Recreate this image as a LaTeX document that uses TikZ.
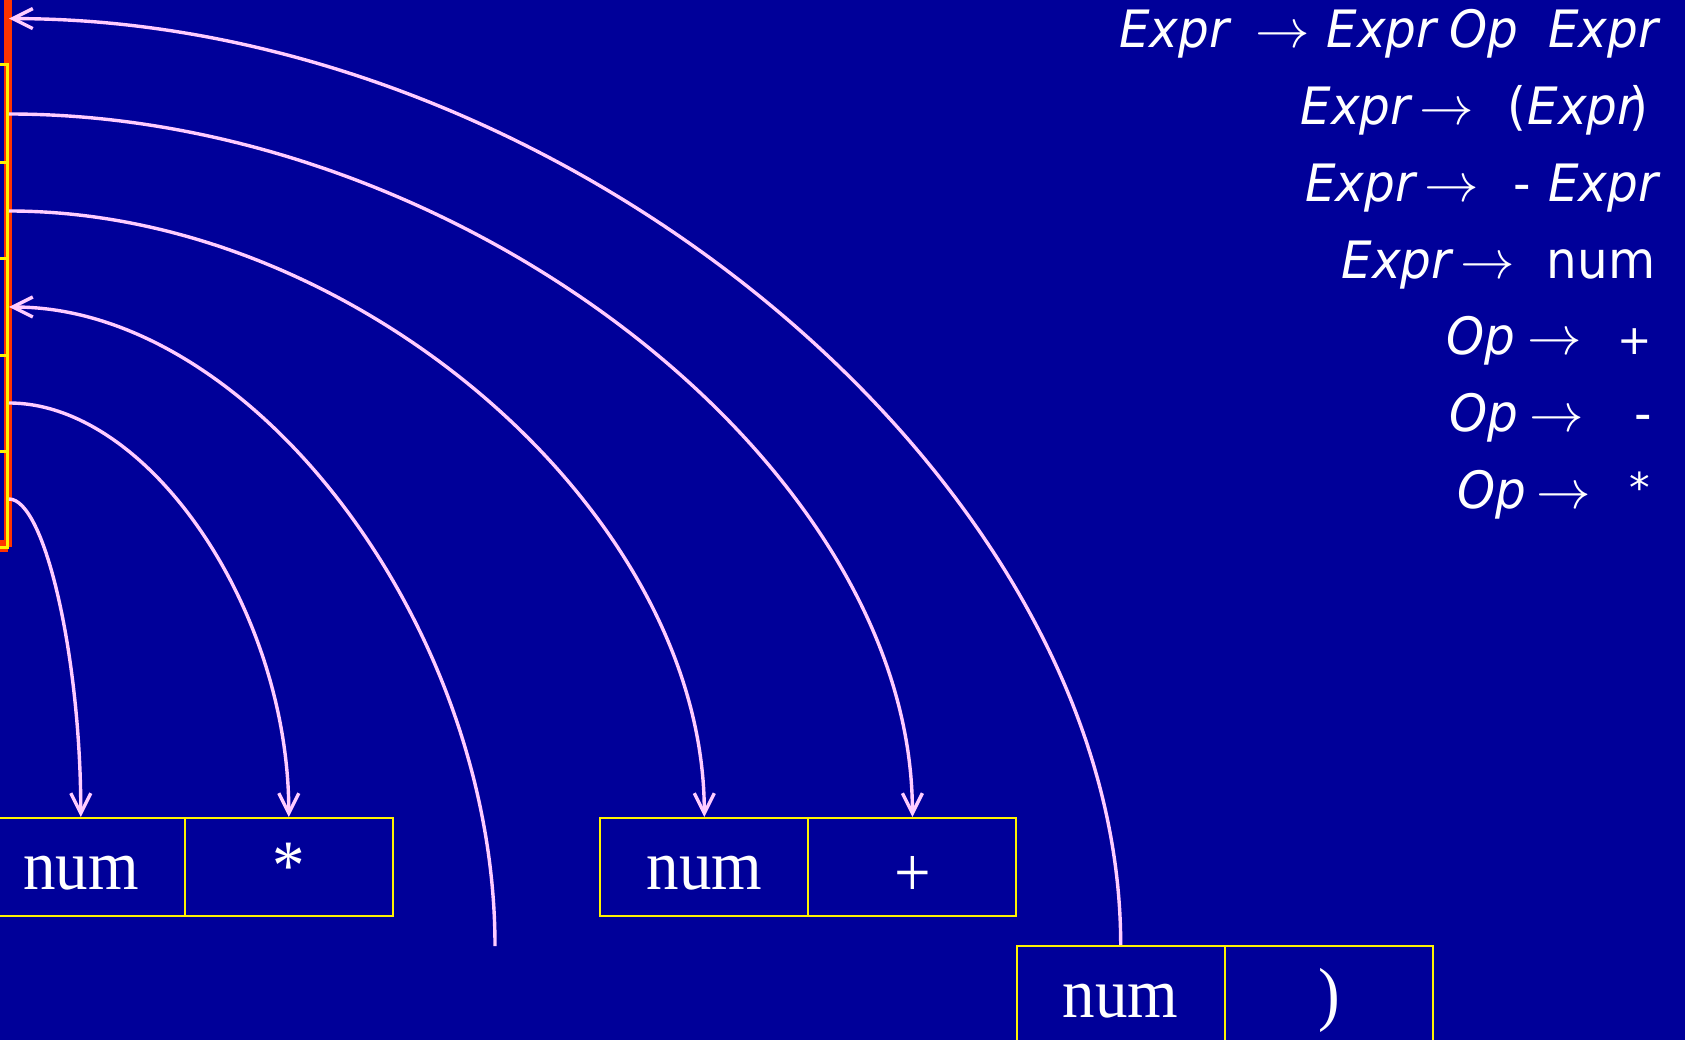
\documentclass[tikz,border=0pt]{standalone}
\usepackage{graphicx}
\usepackage{fontspec}
\usetikzlibrary{arrows.meta,calc}
\newfontfamily\gramfont{DejaVu Sans}
\newfontfamily\cellfont{Liberation Serif}
\definecolor{bgblue}{RGB}{0,0,153}
\definecolor{pinkline}{RGB}{255,204,255}
\definecolor{redbar}{RGB}{255,51,0}
\newcommand\gsq[1]{\scalebox{0.94}[1]{#1}}
\newcommand\csq[1]{\scalebox{1}[1.09]{#1}}
\newcommand\garrow{\scalebox{5.45}{$\rightarrow$}}
\tikzset{
  gram/.style={anchor=base west, inner sep=0pt, outer sep=0pt, text=white,
    font=\gramfont\fontsize{51.5}{60}\selectfont},
  gi/.style={gram, font=\gramfont\itshape\fontsize{51.5}{60}\selectfont},
  garr/.style={anchor=base west, inner sep=0pt, outer sep=0pt, text=white, font=\normalsize},
  cell/.style={draw=yellow, line width=2pt, minimum width=208pt, minimum height=98pt,
    inner sep=0pt, text height=50pt, text depth=6pt, text=white,
    font=\cellfont\fontsize{65}{70}\selectfont},
  stackcell/.style={draw=yellow, line width=3pt, minimum width=307.5pt,
    minimum height=96pt, inner sep=0pt},
  conn/.style={draw=pinkline, line width=3.4pt,
    -{Straight Barb[length=20pt,width=20pt]}},
}
\begin{document}
\begin{tikzpicture}[x=1pt,y=-1pt]
\path[use as bounding box] (0,0) rectangle (1685,1040);
\clip (0,0) rectangle (1685,1040);
\fill[bgblue] (0,0) rectangle (1685,1040);

% red marker bar
\fill[redbar] (4,0) rectangle (11.7,547);
\fill[redbar] (0,540) rectangle (8,552);

% stack cells (mostly off the left edge)
\node[stackcell, minimum height=98pt] (s1) at (-146.25,114) {};
\node[stackcell] (s2) at (-146.25,211) {};
\node[stackcell] (s3) at (-146.25,307) {};
\node[stackcell] (s4) at (-146.25,403) {};
\node[stackcell] (s5) at (-146.25,499) {};

% token cells
\node[cell] (a1) at (80.8,867) {\csq{num}};
\node[cell] (a2) at (288.8,867) {\csq{*}};
\node[cell] (b1) at (704.3,867) {\csq{num}};
\node[cell] (b2) at (912.4,867) {\raisebox{-7pt}{\csq{+}}};
\node[cell] (c1) at (1120.7,995) {\csq{num}};
\node[cell] (c2) at (1328.9,995) {\csq{)}};

\coordinate (top) at (9,18.6);
\coordinate (free) at (495,946);

% connectors
\draw[conn] (c1.north) .. controls ($(c1.north)!0.5!(top -| c1.north)$) and ($(top)!0.5!(top -| c1.north)$) .. (top);
\draw[conn] (s1.east) .. controls ($(s1.east)!0.5!(s1.east -| b2.north)$) and ($(b2.north)!0.5!(s1.east -| b2.north)$) .. (b2.north);
\draw[conn] (s2.east) .. controls ($(s2.east)!0.5!(s2.east -| b1.north)$) and ($(b1.north)!0.5!(s2.east -| b1.north)$) .. (b1.north);
\draw[conn] (free) .. controls ($(free)!0.5!(s3.east -| free)$) and ($(s3.east)!0.5!(s3.east -| free)$) .. (s3.east);
\draw[conn] (s4.east) .. controls ($(s4.east)!0.5!(s4.east -| a2.north)$) and ($(a2.north)!0.5!(s4.east -| a2.north)$) .. (a2.north);
\draw[conn] (s5.east) .. controls ($(s5.east)!0.5!(s5.east -| a1.north)$) and ($(a1.north)!0.5!(s5.east -| a1.north)$) .. (a1.north);

% grammar
\node[gi] (l1a) at (1119,48) {\gsq{Expr}};
\node[garr] (l1b) at (1255.6,48) {\garrow};
\node[gi] (l1c) at (1326.6,48) {\gsq{Expr}};
\node[gi] (l1d) at (1449.7,48) {\gsq{Op}};
\node[gi] (l1e) at (1548,48) {\gsq{Expr}};

\node[gi] (l2a) at (1300.5,124.7) {\gsq{Expr}};
\node[garr] (l2b) at (1419.8,124.7) {\garrow};
\node[gram] (l2c) at (1507.6,124.7) {\gsq{(}};
\node[gi] (l2d) at (1527.7,124.7) {\gsq{Expr}};
\node[gram] (l2e) at (1629.6,124.7) {\gsq{)}};

\node[gi] (l3a) at (1305,201.4) {\gsq{Expr}};
\node[garr] (l3b) at (1424,201.4) {\garrow};
\node[gram] (l3c) at (1513,201.4) {\gsq{-}};
\node[gi] (l3d) at (1548,201.4) {\gsq{Expr}};

\node[gi] (l4a) at (1341.5,278.1) {\gsq{Expr}};
\node[garr] (l4b) at (1460.8,278.1) {\garrow};
\node[gram] (l4c) at (1546.7,278.1) {\gsq{num}};

\node[gi] (l5a) at (1446.7,354.8) {\gsq{Op}};
\node[garr] (l5b) at (1527,354.8) {\garrow};
\node[gram] (l5c) at (1617.5,354.8) {\scalebox{0.8}{+}};

\node[gi] (l6a) at (1449.7,431.5) {\gsq{Op}};
\node[garr] (l6b) at (1529,431.5) {\garrow};
\node[gram] (l6c) at (1634,431.5) {\gsq{-}};

\node[gi] (l7a) at (1457,508.2) {\gsq{Op}};
\node[garr] (l7b) at (1536.6,508.2) {\garrow};
\node[gram] (l7c) at (1629,502) {\scalebox{0.8}{*}};
\end{tikzpicture}
\end{document}
